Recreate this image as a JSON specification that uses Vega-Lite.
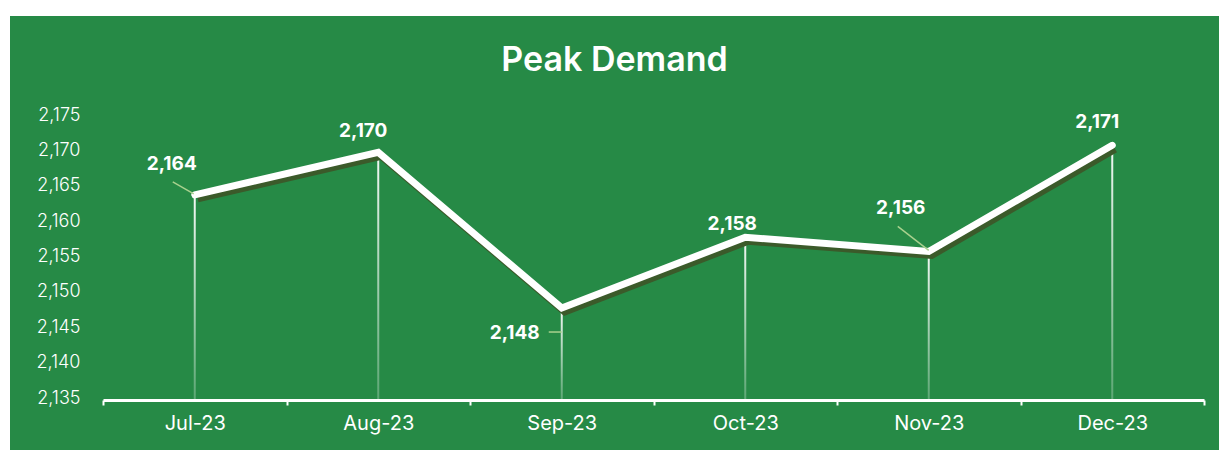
{
  "$schema": "https://vega.github.io/schema/vega-lite/v6.json",
  "width": 1209,
  "height": 434,
  "autosize": {"type": "none"},
  "padding": {"left": 10, "top": 16, "right": 0, "bottom": 0},
  "background": "#ffffff",
  "title": {"text": "Peak Demand", "color": "#ffffff", "fontSize": 34, "font": "Inter", "fontWeight": 600, "anchor": "middle", "frame": "group", "baseline": "alphabetic", "offset": -89},
  "config": {"view": {"stroke": null, "fill": "#268A46"}},
  "data": {"values": [
    {"month": "Jul-23", "demand": 2164},
    {"month": "Aug-23", "demand": 2170},
    {"month": "Sep-23", "demand": 2148},
    {"month": "Oct-23", "demand": 2158},
    {"month": "Nov-23", "demand": 2156},
    {"month": "Dec-23", "demand": 2171}
  ]},
  "encoding": {
    "x": {"field": "month", "type": "ordinal", "sort": null,
      "scale": {"type": "band", "range": [93, 1194], "paddingInner": 0, "paddingOuter": 0},
      "axis": {"title": null, "labelAngle": 0, "orient": "bottom", "offset": -50, "grid": false,
        "domainColor": "#ffffff", "domainWidth": 3, "tickColor": "#ffffff", "tickWidth": 2, "tickSize": 5, "tickBand": "extent",
        "labelColor": "#ffffff", "labelFontSize": 20, "labelFont": "Inter", "labelFontWeight": 400, "labelPadding": 8, "labelFlush": false}},
    "y": {"field": "demand", "type": "quantitative",
      "scale": {"domain": [2135, 2175], "range": [384, 101], "zero": false, "nice": false},
      "axis": {"title": null, "orient": "left", "offset": -72, "domain": false, "ticks": false, "grid": false,
        "values": [2135, 2140, 2145, 2150, 2155, 2160, 2165, 2170, 2175], "format": ",",
        "labelColor": "#ffffff", "labelFontSize": 18, "labelFont": "Inter", "labelFontWeight": 300, "labelPadding": 2, "labelOffset": -2, "labelFlush": false}}
  },
  "layer": [
    {"mark": {"type": "bar", "width": 2, "fill": {"gradient": "linear", "x1": 0, "y1": 0, "x2": 0, "y2": 1,
      "stops": [{"offset": 0, "color": "rgba(255,255,255,0.95)"}, {"offset": 1, "color": "rgba(255,255,255,0.25)"}]}},
     "encoding": {"y2": {"datum": 2135}}},
    {"mark": {"type": "line", "color": "#3B5A2A", "strokeWidth": 7, "xOffset": 3, "yOffset": 4, "strokeJoin": "miter", "strokeCap": "butt"}},
    {"mark": {"type": "line", "color": "#ffffff", "strokeWidth": 7, "strokeJoin": "miter", "strokeCap": "round"}},
    {"transform": [{"filter": "datum.month === 'Jul-23'"}],
     "mark": {"type": "rule", "color": "#A9D18E", "strokeWidth": 1.5, "xOffset": -22, "yOffset": -13, "x2Offset": -1, "y2Offset": -1},
     "encoding": {"x2": {"field": "month"}, "y2": {"field": "demand"}}},
    {"transform": [{"filter": "datum.month === 'Sep-23'"}],
     "mark": {"type": "rule", "color": "#A9D18E", "strokeWidth": 1.5, "xOffset": -13, "yOffset": 24, "x2Offset": 0, "y2Offset": 24},
     "encoding": {"x2": {"field": "month"}, "y2": {"field": "demand"}}},
    {"transform": [{"filter": "datum.month === 'Nov-23'"}],
     "mark": {"type": "rule", "color": "#A9D18E", "strokeWidth": 1.5, "xOffset": -31, "yOffset": -25, "x2Offset": 0, "y2Offset": -1},
     "encoding": {"x2": {"field": "month"}, "y2": {"field": "demand"}}},
    {"transform": [{"filter": "datum.month === 'Jul-23'"}],
     "mark": {"type": "text", "font": "Inter", "fontSize": 19, "fontWeight": 700, "color": "#ffffff", "align": "center", "baseline": "middle", "dx": -23, "dy": -31},
     "encoding": {"text": {"field": "demand", "format": ",.0f"}}},
    {"transform": [{"filter": "datum.month === 'Aug-23'"}],
     "mark": {"type": "text", "font": "Inter", "fontSize": 19, "fontWeight": 700, "color": "#ffffff", "align": "center", "baseline": "middle", "dx": -15, "dy": -21},
     "encoding": {"text": {"field": "demand", "format": ",.0f"}}},
    {"transform": [{"filter": "datum.month === 'Sep-23'"}],
     "mark": {"type": "text", "font": "Inter", "fontSize": 19, "fontWeight": 700, "color": "#ffffff", "align": "right", "baseline": "middle", "dx": -22, "dy": 25},
     "encoding": {"text": {"field": "demand", "format": ",.0f"}}},
    {"transform": [{"filter": "datum.month === 'Oct-23'"}],
     "mark": {"type": "text", "font": "Inter", "fontSize": 19, "fontWeight": 700, "color": "#ffffff", "align": "center", "baseline": "middle", "dx": -13, "dy": -13},
     "encoding": {"text": {"field": "demand", "format": ",.0f"}}},
    {"transform": [{"filter": "datum.month === 'Nov-23'"}],
     "mark": {"type": "text", "font": "Inter", "fontSize": 19, "fontWeight": 700, "color": "#ffffff", "align": "center", "baseline": "middle", "dx": -28, "dy": -43},
     "encoding": {"text": {"field": "demand", "format": ",.0f"}}},
    {"transform": [{"filter": "datum.month === 'Dec-23'"}],
     "mark": {"type": "text", "font": "Inter", "fontSize": 19, "fontWeight": 700, "color": "#ffffff", "align": "center", "baseline": "middle", "dx": -15, "dy": -23},
     "encoding": {"text": {"field": "demand", "format": ",.0f"}}}
  ]
}
